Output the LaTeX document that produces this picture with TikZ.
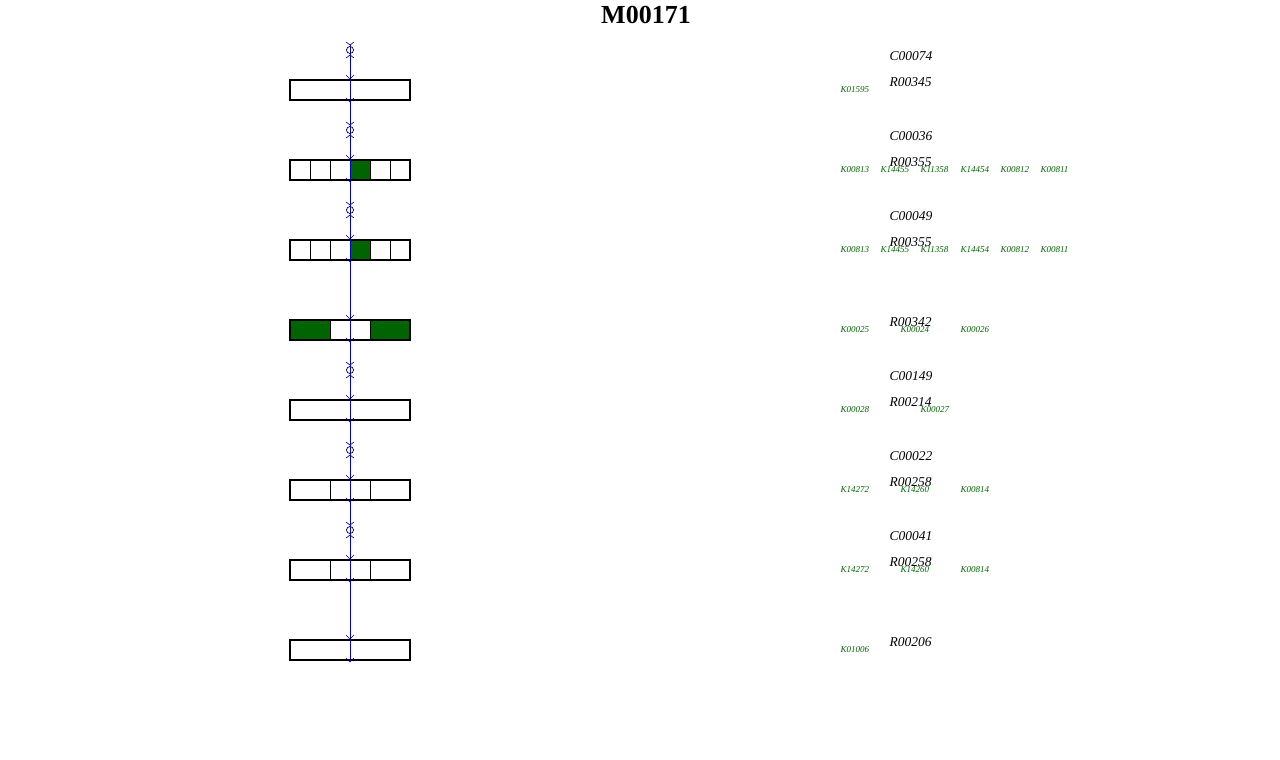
\documentclass[tikz,border=0pt]{standalone}
\usepackage{fontspec}
\setmainfont{Liberation Serif}
\definecolor{kegggreen}{RGB}{0,100,0}
\definecolor{flowblue}{RGB}{0,0,200}
\tikzset{
  rxnbox/.style={draw, line width=2pt, minimum width=120pt, minimum height=20pt, inner sep=0pt},
  cell/.style={draw, line width=0.6pt},
  cpd/.style={draw, circle, line width=0.7pt, minimum size=7pt, inner sep=0pt},
  tickmark/.style={draw=blue!40!black, line width=0.6pt},
  cpdlabel/.style={anchor=west, font=\itshape\fontsize{13.5}{13.5}\selectfont},
  klabel/.style={anchor=west, text=kegggreen, font=\itshape\fontsize{9}{9}\selectfont}
}
\begin{document}
\begin{tikzpicture}[x=1pt,y=-1pt]
    \useasboundingbox (0,0) rectangle (1280,760);
    \node[font=\bfseries\fontsize{26}{26}\selectfont] (title) at (646,15) {M00171};

    % Reaction cells
    \foreach \y/\x/\w in {170/350/20, 250/350/20, 330/290/40, 330/370/40} {
        \fill[kegggreen] (\x,\y-10) rectangle ++(\w,20);
    }
    \foreach \y/\n in {90/1, 170/6, 250/6, 330/3, 410/1, 490/3, 570/3, 650/1} {
        \pgfmathsetmacro\w{120/\n}
        \foreach \i in {1,...,\n} {
            \draw[cell] (290+\w*\i-\w,\y-10) rectangle ++(\w,20);
        }
    }
    \foreach \y [count=\k] in {90,170,250,330,410,490,570,650} {
        \node[rxnbox] (r\k) at (350,\y) {};
    }

    % Compounds
    \foreach \y [count=\k] in {50,130,210,370,450,530} {
        \node[cpd] (c\k) at (350,\y) {};
        \draw[tickmark] (346,\y-8) -- (350,\y-5) -- (354,\y-8);
        \draw[tickmark] (346,\y+8) -- (350,\y+5) -- (354,\y+8);
    }

    % Flow line
    \coordinate (top) at (350,45);
    \draw[flowblue, line width=0.6pt] (top) -- (r8.south);
    \foreach \k in {1,...,8} {
        \draw[tickmark] ([xshift=-4pt,yshift=4pt]r\k.north) -- (r\k.north) -- ([xshift=4pt,yshift=4pt]r\k.north);
        \draw[tickmark] ([xshift=-4pt,yshift=3pt]r\k.south) -- ([yshift=-1pt]r\k.south) -- ([xshift=4pt,yshift=3pt]r\k.south);
    }

    % Labels
    \foreach \y/\name in {56/C00074, 136/C00036, 216/C00049, 376/C00149, 456/C00022, 536/C00041} {
        \node[cpdlabel] at (886,\y) {\name};
    }
    \foreach \y/\name in {82/R00345, 162/R00355, 242/R00355, 322/R00342, 402/R00214, 482/R00258, 562/R00258, 642/R00206} {
        \node[cpdlabel] at (886,\y) {\name};
    }
    \foreach \y/\x/\name in {90/840/K01595,
        170/840/K00813, 170/880/K14455, 170/920/K11358, 170/960/K14454, 170/1000/K00812, 170/1040/K00811,
        250/840/K00813, 250/880/K14455, 250/920/K11358, 250/960/K14454, 250/1000/K00812, 250/1040/K00811,
        330/840/K00025, 330/900/K00024, 330/960/K00026,
        410/840/K00028, 410/920/K00027,
        490/840/K14272, 490/900/K14260, 490/960/K00814,
        570/840/K14272, 570/900/K14260, 570/960/K00814,
        650/840/K01006} {
        \node[klabel] at (\x-3,\y) {\name};
    }
\end{tikzpicture}
\end{document}
